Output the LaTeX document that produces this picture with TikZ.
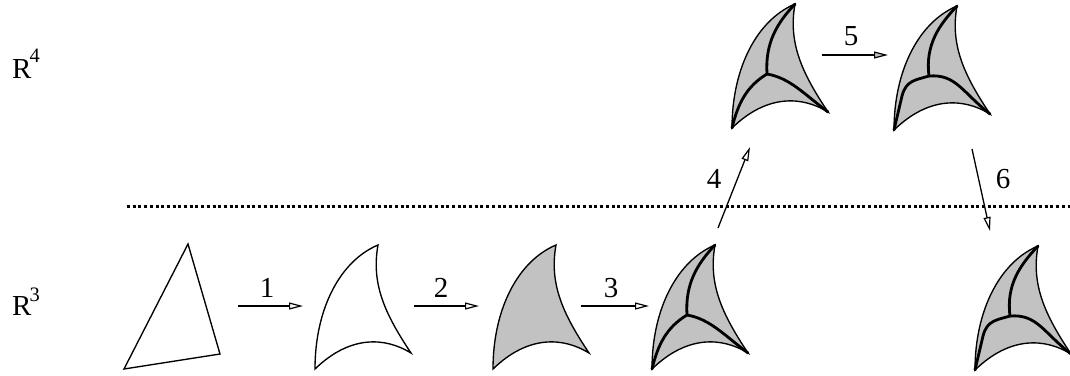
\documentclass[tikz,border=0pt]{standalone}
\usepackage{fontspec}
\setmainfont{Liberation Serif}
\usetikzlibrary{arrows.meta}
\newcommand{\outline}{(0,0) .. controls (0,-60) and (25,-108) .. (63,-124) .. controls (56,-85) and (70,-55) .. (96,-16) .. controls (70,-32) and (35,-34) .. (0,0) -- cycle}
\definecolor{shade}{gray}{0.76}
\tikzset{
  x=1pt,y=-1pt,
  edge/.style={line width=1.35pt,line join=miter},
  sheet/.style={edge,fill=shade},
  spine/.style={line width=2.8pt,line cap=round,line join=round},
  flow/.style={line width=1.3pt,-{Triangle[length=14pt,width=7pt,fill=white,line width=1.2pt]}},
  flowgray/.style={line width=1.3pt,-{Triangle[length=14pt,width=7pt,fill=shade,line width=1.2pt]}},
  lab/.style={font=\fontsize{29}{33}\selectfont,inner sep=0pt},
  space/.style={font=\fontsize{29}{33}\selectfont,inner sep=0pt},
  divider/.style={line width=3pt,dash pattern=on 3pt off 2.7pt}
}
\newcommand{\spinesA}{
  \draw[spine] (35,-54) .. controls (33,-85) and (45,-105) .. (63,-124);
  \draw[spine] (35,-54) .. controls (15,-42) and (6,-25) .. (0,0);
  \draw[spine] (35,-54) .. controls (58,-50) and (72,-34) .. (96,-16);
}
\newcommand{\spinesB}{
  \draw[spine] (35,-54) .. controls (31,-85) and (45,-105) .. (63,-124);
  \draw[spine] (35,-54) .. controls (22,-50) and (12,-50) .. (8,-34) -- (0,0);
  \draw[spine] (35,-54) .. controls (62,-56) and (68,-38) .. (96,-16);
}
\begin{document}
\begin{tikzpicture}
\useasboundingbox (0,0) rectangle (1070,375);
\clip (0,0) rectangle (1070,375);
\node[space,anchor=base west] (rf) at (12,78) {R\kern-2pt\raisebox{16pt}{\fontsize{20.5}{24}\selectfont 4}};
\node[space,anchor=base west] (rt) at (12,315) {R\kern-2pt\raisebox{14pt}{\fontsize{20.5}{24}\selectfont 3}};
\coordinate (dl) at (127,206);
\coordinate (dr) at (1070,206);
\draw[divider] (dl) -- (dr);
% triangle
\coordinate (ta) at (124,369);
\coordinate (tb) at (188,244);
\coordinate (tc) at (220,354);
\draw[edge] (ta) -- (tb) -- (tc) -- cycle;
% curved sheets
\begin{scope}[shift={(315,369)}]\draw[edge] \outline;\end{scope}
\begin{scope}[shift={(493,369)}]\draw[sheet] \outline;\end{scope}
\begin{scope}[shift={(652,369)}]\draw[sheet] \outline;\spinesA\end{scope}
\begin{scope}[shift={(732,128)}]\draw[sheet] \outline;\spinesA\end{scope}
\begin{scope}[shift={(894,130)}]\draw[sheet] \outline;\spinesB\end{scope}
\begin{scope}[shift={(975,370)}]\draw[sheet] \outline;\spinesB\end{scope}
% arrows
\coordinate (a1s) at (238,306); \coordinate (a1e) at (303,306);
\coordinate (a2s) at (414,306); \coordinate (a2e) at (479,306);
\coordinate (a3s) at (581,306); \coordinate (a3e) at (649,306);
\coordinate (a4s) at (718,228); \coordinate (a4e) at (750,147);
\coordinate (a5s) at (822,55);  \coordinate (a5e) at (888,55);
\coordinate (a6s) at (972,149); \coordinate (a6e) at (990,231);
\draw[flow] (a1s) -- (a1e);
\draw[flow] (a2s) -- (a2e);
\draw[flow] (a3s) -- (a3e);
\draw[flow] (a4s) -- (a4e);
\draw[flowgray] (a5s) -- (a5e);
\draw[flow] (a6s) -- (a6e);
\node[lab] (n1) at (267,288) {1};
\node[lab] (n2) at (441,288) {2};
\node[lab] (n3) at (611,288) {3};
\node[lab] (n4) at (714,179) {4};
\node[lab] (n5) at (851,36) {5};
\node[lab] (n6) at (1003,179) {6};
\end{tikzpicture}
\end{document}
